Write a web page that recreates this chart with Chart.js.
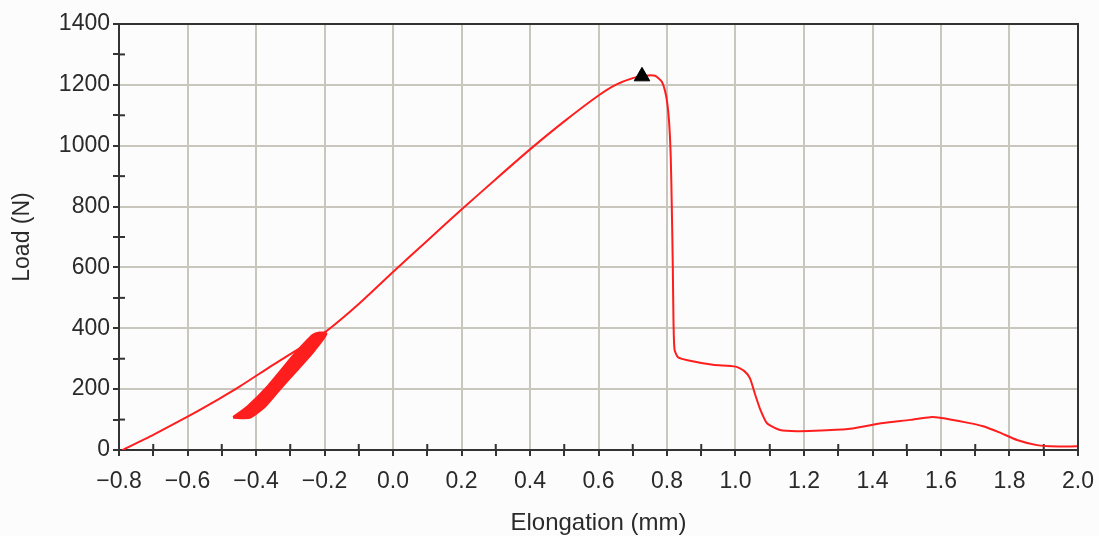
<!DOCTYPE html>
<html>
<head>
<meta charset="utf-8">
<script src="https://cdn.jsdelivr.net/npm/chart.js@4/dist/chart.umd.min.js"></script>
<style>
  html, body { margin: 0; padding: 0; background: #fcfcfc; }
  #wrap { width: 1099px; height: 536px; position: relative; }
</style>
</head>
<body>
<div id="wrap"><canvas id="loadChart"></canvas></div>
<script>
// Elongation (mm) / load (N) of the test curve
const curveX = [-0.79, -0.7, -0.593, -0.505, -0.447, -0.35, -0.25, -0.193, -0.1, 0.0, 0.1, 0.2, 0.3, 0.4, 0.5, 0.6, 0.65, 0.7, 0.735, 0.765, 0.785, 0.798, 0.806, 0.811, 0.814, 0.817, 0.819, 0.822, 0.832, 0.86, 0.934, 1.0, 1.025, 1.042, 1.058, 1.071, 1.092, 1.13, 1.18, 1.25, 1.334, 1.431, 1.509, 1.568, 1.597, 1.676, 1.723, 1.772, 1.822, 1.88, 1.918, 1.997];
const curveY = [0, 50, 114, 170, 209, 280, 350, 392, 480, 585, 688, 790, 890, 988, 1080, 1165, 1200, 1222, 1230, 1230, 1210, 1160, 1080, 960, 800, 600, 420, 330, 305, 295, 280, 274, 260, 236, 180, 137, 88, 66, 62, 64, 70, 89, 99, 108, 106, 90, 78, 57, 33, 16, 12, 12];

// unload/reload cycles (outline of the band)
const loopX = [-0.467, -0.426, -0.368, -0.286, -0.25, -0.232, -0.215, -0.195, -0.2, -0.236, -0.28, -0.324, -0.374, -0.418, -0.467];
const loopY = [108, 142, 207, 318, 362, 380, 386, 384, 370, 318, 262, 207, 142, 106, 106];

// maximum load marker
const peakX = [0.727];
const peakY = [1228];

const xTicks = { min: -0.8, max: 2.0, step: 0.1 };
const yTicks = { min: 0, max: 1400, step: 100 };

const gridColor = '#c9c6be';
const axisColor = '#333333';
const red = '#ff1e1e';

const toPoints = (xs, ys) => xs.map((x, i) => ({ x: x, y: ys[i] }));

const isMajorX = v => Math.round(v * 10) % 2 === 0;
const isMajorY = v => Math.round(v) % 200 === 0;

// frame round the plot and the inner half of the minor ticks
const framePlugin = {
    id: 'frame',
    beforeDatasetsDraw(chart) {
        const { ctx, chartArea: a, scales } = chart;
        ctx.save();
        ctx.strokeStyle = axisColor;
        ctx.lineWidth = 2;
        ctx.strokeRect(a.left, a.top, a.right - a.left, a.bottom - a.top);
        scales.x.ticks.forEach(t => {
            if (isMajorX(t.value)) return;
            const px = scales.x.getPixelForValue(t.value);
            ctx.beginPath();
            ctx.moveTo(px, a.bottom);
            ctx.lineTo(px, a.bottom - 6);
            ctx.stroke();
        });
        scales.y.ticks.forEach(t => {
            if (isMajorY(t.value)) return;
            const py = scales.y.getPixelForValue(t.value);
            ctx.beginPath();
            ctx.moveTo(a.left, py);
            ctx.lineTo(a.left + 6, py);
            ctx.stroke();
        });
        ctx.restore();
    }
};

const tickFont = { family: 'Liberation Sans, Arial, sans-serif', size: 23 };

new Chart(document.getElementById('loadChart'), {
    type: 'line',
    data: {
        datasets: [
            {
                data: toPoints(peakX, peakY),
                showLine: false,
                pointStyle: 'triangle',
                pointRadius: 9,
                pointBackgroundColor: '#000',
                pointBorderColor: '#000',
                order: 0
            },
            {
                data: toPoints(curveX, curveY),
                borderColor: red,
                borderWidth: 2,
                pointRadius: 0,
                tension: 0.2,
                fill: false,
                order: 1
            },
            {
                data: toPoints(loopX, loopY),
                borderColor: red,
                backgroundColor: red,
                borderWidth: 2,
                pointRadius: 0,
                tension: 0.2,
                fill: 'shape',
                order: 2
            }
        ]
    },
    options: {
        responsive: true,
        maintainAspectRatio: false,
        animation: false,
        layout: { padding: { left: 0, right: 21, top: 24, bottom: 0 } },
        plugins: {
            legend: { display: false },
            tooltip: { enabled: false }
        },
        scales: {
            x: {
                type: 'linear',
                min: xTicks.min,
                max: xTicks.max,
                afterFit: s => { s.height = 86; s.paddingLeft = 0; s.paddingRight = 0; },
                border: { color: axisColor, width: 2 },
                grid: {
                    color: c => isMajorX(c.tick.value) ? gridColor : 'transparent',
                    lineWidth: 2,
                    tickColor: axisColor,
                    tickWidth: 2,
                    tickLength: 6
                },
                ticks: {
                    stepSize: xTicks.step,
                    autoSkip: false,
                    maxRotation: 0,
                    minRotation: 0,
                    padding: 12,
                    color: '#2a2a2a',
                    font: tickFont,
                    callback: v => isMajorX(v) ? (Math.round(v * 10) / 10).toFixed(1).replace('-', '\u2212') : ''
                },
                title: {
                    display: true,
                    text: 'Elongation (mm)',
                    color: '#2a2a2a',
                    font: { family: 'Liberation Sans, Arial, sans-serif', size: 24 },
                    padding: { top: 0, bottom: -2 }
                }
            },
            y: {
                min: yTicks.min,
                max: yTicks.max,
                afterFit: s => { s.width = 119; },
                border: { color: axisColor, width: 2 },
                grid: {
                    color: c => isMajorY(c.tick.value) ? gridColor : 'transparent',
                    lineWidth: 2,
                    tickColor: axisColor,
                    tickWidth: 2,
                    tickLength: 6
                },
                ticks: {
                    stepSize: yTicks.step,
                    autoSkip: false,
                    padding: 3,
                    color: '#2a2a2a',
                    font: tickFont,
                    callback: v => isMajorY(v) ? String(v) : ''
                },
                title: {
                    display: true,
                    text: 'Load (N)',
                    color: '#2a2a2a',
                    font: { family: 'Liberation Sans, Arial, sans-serif', size: 23 },
                    padding: { top: 9, bottom: 0 }
                }
            }
        }
    },
    plugins: [framePlugin]
});
</script>
</body>
</html>
